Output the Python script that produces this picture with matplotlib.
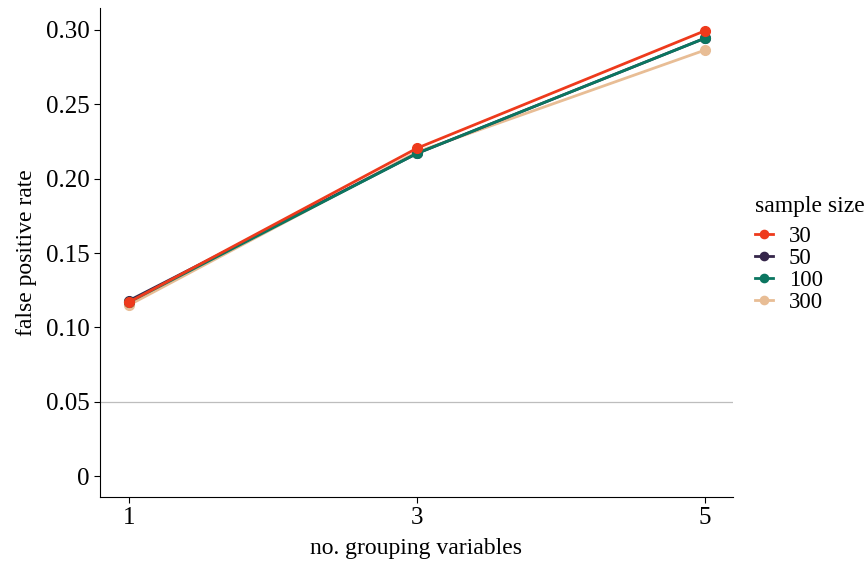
import matplotlib.pyplot as plt

plt.rcParams['font.family'] = ['Liberation Serif', 'DejaVu Serif']

# false positive rate by number of grouping variables, per sample size
n_groups = [1, 3, 5]
sample_sizes = ['30', '50', '100', '300']
fpr = {
    '30': [0.117, 0.2205, 0.2995],
    '50': [0.118, 0.2170, 0.2945],
    '100': [0.117, 0.2170, 0.2945],
    '300': [0.115, 0.2180, 0.2865],
}
colors = {'30': '#EE3A1C', '50': '#35264A', '100': '#0B7660', '300': '#E8BD95'}
zorders = {'30': 6, '50': 4, '100': 5, '300': 3}

fig = plt.figure(figsize=(8.67, 5.67), dpi=100)
ax = fig.add_axes([0.1153, 0.1235, 0.7301, 0.8624])

ax.axhline(0.05, color='#BDBDBD', lw=0.9, zorder=1)
for s in sample_sizes:
    ax.plot(n_groups, fpr[s], color=colors[s], lw=2.0, marker='o', ms=7,
            label=s, zorder=zorders[s])

ax.set_xlim(0.798, 5.194)
ax.set_ylim(-0.0141, 0.3148)
ax.set_xticks([1, 3, 5])
ax.set_yticks([0, 0.05, 0.10, 0.15, 0.20, 0.25, 0.30])
ax.set_yticklabels(['0', '0.05', '0.10', '0.15', '0.20', '0.25', '0.30'])
ax.tick_params(labelsize=18, length=4, width=0.8, colors='black')
for side in ['top', 'right']:
    ax.spines[side].set_visible(False)
ax.set_xlabel('no. grouping variables', fontsize=17, labelpad=6)
ax.set_ylabel('false positive rate', fontsize=17, labelpad=6)

# legend on the right, title drawn separately to leave a gap above the keys
fig.text(0.8708, 0.635, 'sample size', fontsize=17, va='center', ha='left')
fig.legend(loc='center left', bbox_to_anchor=(0.8708, 0.5247),
           frameon=False, fontsize=16.5, handlelength=0.8, markerscale=0.85,
           labelspacing=0.05, handletextpad=0.67, borderpad=0, borderaxespad=0)

fig.savefig('out.png', dpi=100)
